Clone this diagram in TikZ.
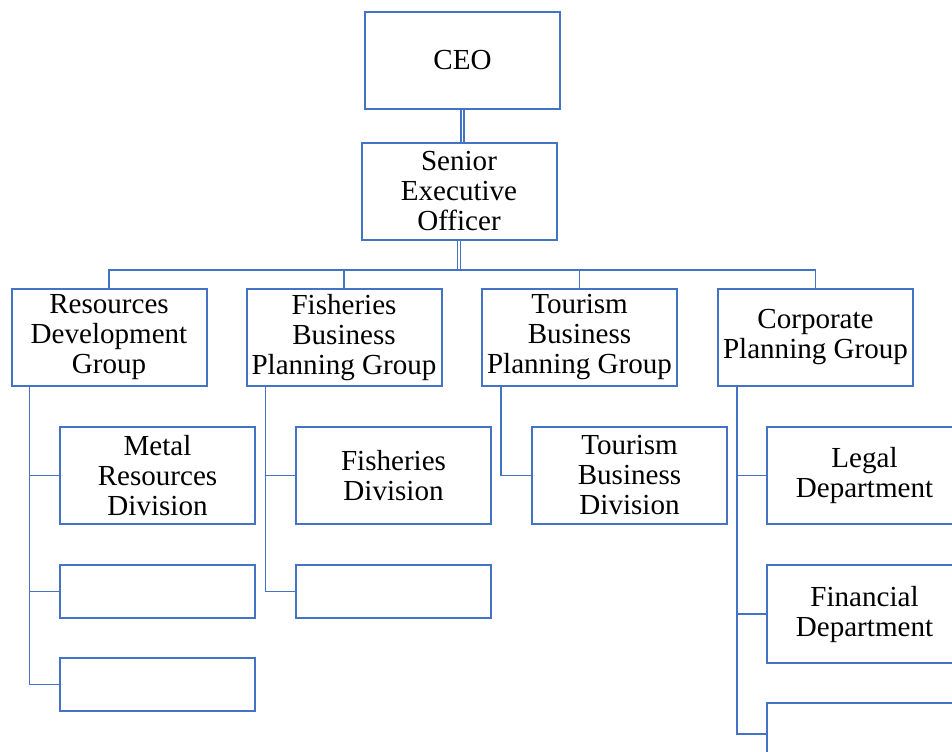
\documentclass[tikz,border=0pt]{standalone}
\usepackage{fontspec}
\setmainfont{Liberation Serif}
\definecolor{orgblue}{HTML}{4472C4}
\tikzset{
  box/.style={draw=orgblue, line width=1.5pt, fill=white, minimum width=146.25pt, minimum height=72.75pt, align=center, inner sep=1pt, font=\fontsize{21.8}{22.5}\selectfont},
  link/.style={draw=orgblue, line width=1.1pt},
  dlink/.style={draw=orgblue, line width=0.9pt, double=white, double distance=1.4pt}
}
\begin{document}
\begin{tikzpicture}[x=0.75pt,y=-0.75pt]
        \useasboundingbox (0,0) rectangle (952,751);

        % top of the chart
        \node[box] (ceo) at (462.5,60.5) {CEO};
        \node[box] (seo) at (459,191.5) {Senior\\Executive\\Officer};

        % groups
        \node[box] (res) at (109,337.5) {Resources\\Development\\Group};
        \node[box] (fish) at (344,337.5) {Fisheries\\Business\\Planning Group};
        \node[box] (tour) at (579.5,337.5) {Tourism\\Business\\Planning Group};
        \node[box] (corp) at (815.5,337.5) {Corporate\\Planning Group};

        % divisions and departments
        \node[box] (res1) at (157.5,475.5) {Metal\\Resources\\Division};
        \node[box, minimum height=39.75pt] (res2) at (157.5,591.5) {};
        \node[box, minimum height=39.75pt] (res3) at (157.5,684.5) {};

        \node[box] (fish1) at (393.5,475.5) {Fisheries\\Division};
        \node[box, minimum height=39.75pt] (fish2) at (393.5,591.5) {};

        \node[box] (tour1) at (629.5,475.5) {Tourism\\Business\\Division};

        \node[box] (corp1) at (864.5,475.5) {Legal\\Department};
        \node[box, minimum height=73.5pt] (corp2) at (864.5,614) {Financial\\Department};
        \node[box, minimum height=46.5pt] (corp3) at (864.5,734) {};

        % connectors
        \coordinate (bus) at (459,270);
        \draw[dlink] (ceo.south) -- (ceo.south |- seo.north);
        \draw[dlink] (seo.south) -- (bus);
        \draw[link] (res.north) |- (bus) -| (corp.north);
        \draw[link] (fish.north) -- (fish.north |- bus);
        \draw[link] (tour.north) -- (tour.north |- bus);

        \coordinate (resline) at ([xshift=14.25pt]res.south west);
        \coordinate (fishline) at ([xshift=15pt]fish.south west);
        \coordinate (tourline) at ([xshift=15pt]tour.south west);
        \coordinate (corpline) at ([xshift=15pt]corp.south west);

        \draw[link] (resline) |- (res3.west);
        \foreach \n in {res1,res2} \draw[link] (\n.west) -- (\n.west -| resline);

        \draw[link] (fishline) |- (fish2.west);
        \draw[link] (fish1.west) -- (fish1.west -| fishline);

        \draw[link] (tourline) |- (tour1.west);

        \draw[link] (corpline) |- (corp3.west);
        \foreach \n in {corp1,corp2} \draw[link] (\n.west) -- (\n.west -| corpline);

      \end{tikzpicture}
\end{document}
